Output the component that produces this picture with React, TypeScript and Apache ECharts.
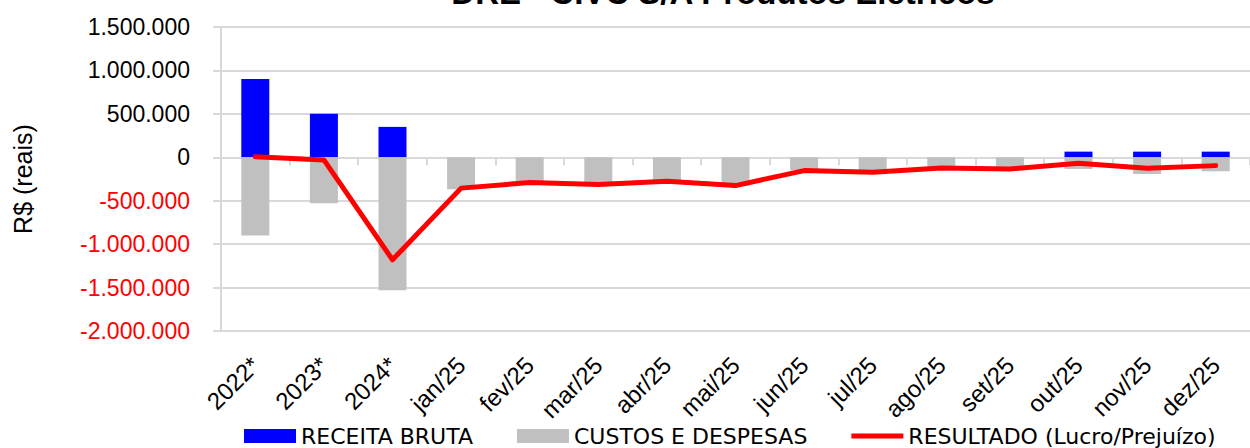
import React, { useEffect, useRef } from "react";
import * as echarts from "echarts";

const categories = ["2022*", "2023*", "2024*", "jan/25", "fev/25", "mar/25", "abr/25", "mai/25", "jun/25", "jul/25", "ago/25", "set/25", "out/25", "nov/25", "dez/25"];
const receitaBruta = [900000, 500000, 350000, 0, 0, 0, 0, 0, 0, 0, 0, 0, 65000, 65000, 65000];
const custosDespesas = [-900000, -530000, -1530000, -368000, -288000, -312000, -274000, -324000, -150000, -168000, -120000, -132000, -134000, -192000, -161000];
const resultado = [5000, -30000, -1180000, -355000, -291000, -314000, -276000, -326000, -153000, -172000, -123000, -134000, -69000, -127000, -96000];
const yTicks = { min: -2000000, max: 1500000, interval: 500000 };
const titleText = "DRE - CIVC S/A Produtos Elétricos";
const yName = "R$ (reais)";

function fmt(v: number): string {
  const s = Math.abs(v).toString().replace(/\B(?=(\d{3})+(?!\d))/g, ".");
  return v < 0 ? "-" + s : s;
}

export default function App() {
  const ref = useRef<HTMLDivElement>(null);
  useEffect(() => {
    if (!ref.current) return;
    const chart = echarts.init(ref.current, undefined, { renderer: "svg" });
    const grid = "#d9d9d9";
    const font = "Liberation Sans";
    chart.setOption({
      animation: false,
      backgroundColor: "#ffffff",
      grid: { left: 221, right: -6, top: 27, bottom: 117, containLabel: false },
      graphic: [
        {
          type: "text",
          x: 723,
          y: -8,
          style: { text: titleText, fontFamily: font, fontWeight: "bold", fontSize: 33, fill: "#000", align: "center", verticalAlign: "middle" },
        },
        {
          type: "text",
          x: 23,
          y: 179,
          rotation: Math.PI / 2,
          style: { text: yName, fontFamily: font, fontSize: 25, fill: "#000", align: "center", verticalAlign: "middle" },
        },
      ],
      legend: {
        left: 239,
        top: 420,
        itemWidth: 52,
        itemHeight: 14,
        itemGap: 44,
        symbolKeepAspect: true,
        textStyle: { fontFamily: "DejaVu Sans", fontSize: 22, color: "#000" },
        data: [
          { name: "RECEITA BRUTA", icon: "rect" },
          { name: "CUSTOS E DESPESAS", icon: "rect" },
          { name: "RESULTADO (Lucro/Prejuízo)", icon: "path://M0,0 H52 V5 H0 Z", itemStyle: { color: "#ff0000" } },
        ],
      },
      xAxis: [
        {
          type: "category",
          data: categories,
          position: "bottom",
          axisLine: { show: false, onZero: false },
          axisTick: { show: false },
          splitLine: { show: false },
          axisLabel: {
            rotate: 45,
            interval: 0,
            margin: 30,
            fontFamily: font,
            fontSize: 24,
            color: "#000",
          },
        },
        {
          type: "category",
          data: categories,
          position: "bottom",
          axisLine: { show: true, onZero: true, lineStyle: { color: grid, width: 2 } },
          axisTick: { show: true, length: 8, lineStyle: { color: grid, width: 2 } },
          axisLabel: { show: false },
          splitLine: { show: false },
        },
      ],
      yAxis: {
        type: "value",
        min: yTicks.min,
        max: yTicks.max,
        interval: yTicks.interval,
        axisLine: { show: true, lineStyle: { color: grid, width: 2 } },
        axisTick: { show: true, length: 8, lineStyle: { color: grid, width: 2 } },
        splitLine: { show: true, lineStyle: { color: grid, width: 2 } },
        axisLabel: {
          margin: 31,
          fontFamily: font,
          fontSize: 23,
          formatter: (v: number) => (v < 0 ? "{n|" + fmt(v) + "}" : "{p|" + fmt(v) + "}"),
          rich: {
            n: { color: "#ff0000", fontFamily: font, fontSize: 23 },
            p: { color: "#000000", fontFamily: font, fontSize: 23 },
          },
        },
      },
      series: [
        {
          name: "RECEITA BRUTA",
          type: "bar",
          xAxisIndex: 0,
          data: receitaBruta,
          barWidth: 28,
          barGap: "-100%",
          itemStyle: { color: "#0000ff" },
        },
        {
          name: "CUSTOS E DESPESAS",
          type: "bar",
          xAxisIndex: 0,
          data: custosDespesas,
          barWidth: 28,
          barGap: "-100%",
          itemStyle: { color: "#c0c0c0" },
        },
        {
          name: "RESULTADO (Lucro/Prejuízo)",
          type: "line",
          xAxisIndex: 0,
          data: resultado,
          symbol: "none",
          lineStyle: { color: "#ff0000", width: 5, cap: "round", join: "round" },
          itemStyle: { color: "#ff0000" },
          z: 5,
        },
      ],
    });
    return () => chart.dispose();
  }, []);
  return <div ref={ref} style={{ position: "absolute", left: 0, top: 0, width: 1250, height: 448 }} />;
}
